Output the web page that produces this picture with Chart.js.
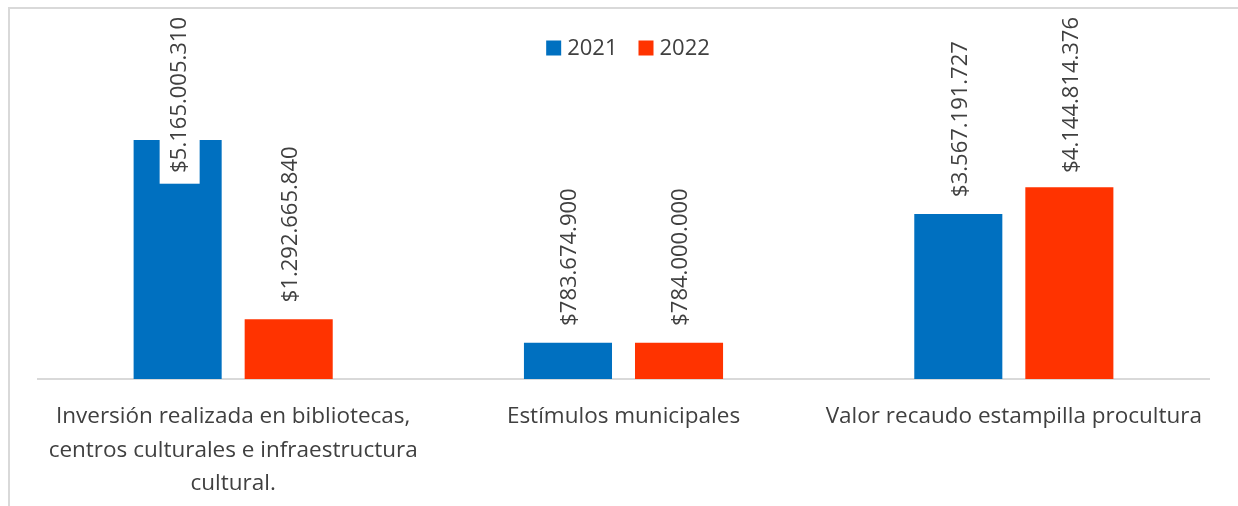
<!DOCTYPE html>
<html>
<head>
<meta charset="utf-8">
<script src="https://cdn.jsdelivr.net/npm/chart.js@4"></script>
<style>
  html, body { margin: 0; padding: 0; background: #fff; overflow: hidden; }
  #wrap { position: relative; width: 1238px; height: 506px; }
</style>
</head>
<body>
<div id="wrap"><canvas id="c"></canvas></div>
<script>
const categories = [
  ["Inversión realizada en bibliotecas,", "centros culturales e infraestructura", "cultural."],
  "Estímulos municipales",
  "Valor recaudo estampilla procultura"
];
const seriesLabels = ["2021", "2022"];
const values2021 = [5165005310, 783674900, 3567191727];
const values2022 = [1292665840, 784000000, 4144814376];
const seriesColors = ["#0070C0", "#FF3300"];

const FONT = "'Open Sans', 'Noto Sans', sans-serif";
const TEXT_COLOR = "#404040";

function fmt(v) {
  return "$" + String(v).replace(/\B(?=(\d{3})+(?!\d))/g, ".");
}

const labelPlugin = {
  id: "valueLabels",
  afterDatasetsDraw(chart) {
    const ctx = chart.ctx;
    ctx.save();
    ctx.font = "22px " + FONT;
    chart.data.datasets.forEach((ds, di) => {
      const meta = chart.getDatasetMeta(di);
      meta.data.forEach((bar, i) => {
        const txt = fmt(ds.data[i]);
        const w = ctx.measureText(txt).width;
        let bottom = bar.y - 17;
        const minTop = 17;
        if (bottom - w < minTop) bottom = minTop + w;
        const x = bar.x + 2;
        ctx.save();
        ctx.translate(x, bottom);
        ctx.rotate(-Math.PI / 2);
        ctx.fillStyle = "#ffffff";
        ctx.fillRect(-11, -20, w + 22, 40);
        ctx.fillStyle = TEXT_COLOR;
        ctx.textAlign = "left";
        ctx.textBaseline = "middle";
        ctx.fillText(txt, 0, 0);
        ctx.restore();
      });
    });
    ctx.restore();
  },
  afterDraw(chart) {
    const ctx = chart.ctx;
    ctx.save();
    // legend
    ctx.font = "22px " + FONT;
    ctx.textBaseline = "middle";
    ctx.textAlign = "left";
    const box = 15, gap = 6, itemGap = 21;
    const widths = seriesLabels.map(s => ctx.measureText(s).width);
    let total = 0;
    widths.forEach((w, i) => { total += box + gap + w + (i ? itemGap : 0); });
    let x = 628 - total / 2;
    const cy = 48;
    seriesLabels.forEach((s, i) => {
      ctx.fillStyle = seriesColors[i];
      ctx.fillRect(x, cy - box / 2, box, box);
      ctx.fillStyle = TEXT_COLOR;
      ctx.fillText(s, x + box + gap, cy + 1);
      x += box + gap + widths[i] + itemGap;
    });
    // frame
    ctx.strokeStyle = "#D9D9D9";
    ctx.lineWidth = 2;
    ctx.beginPath();
    ctx.moveTo(9, 506);
    ctx.lineTo(9, 8);
    ctx.lineTo(1238, 8);
    ctx.stroke();
    ctx.restore();
  }
};

new Chart(document.getElementById("c"), {
  type: "bar",
  data: {
    labels: categories,
    datasets: [
      { label: seriesLabels[0], data: values2021, backgroundColor: seriesColors[0] },
      { label: seriesLabels[1], data: values2022, backgroundColor: seriesColors[1] }
    ]
  },
  options: {
    responsive: true,
    maintainAspectRatio: false,
    animation: false,
    devicePixelRatio: 1,
    categoryPercentage: 0.569,
    barPercentage: 0.793,
    layout: { padding: { left: 38, right: 29, top: 55, bottom: 0 } },
    plugins: { legend: { display: false }, tooltip: { enabled: false } },
    scales: {
      y: { display: false, min: 0, max: 7000000000 },
      x: {
        grid: { display: false, drawTicks: false },
        border: { display: true, color: "#D9D9D9", width: 2 },
        ticks: {
          color: TEXT_COLOR,
          font: { family: FONT, size: 22.5, lineHeight: 1.49 },
          padding: 21,
          maxRotation: 0,
          autoSkip: false
        },
        afterFit(scale) { scale.height = 127; }
      }
    }
  },
  plugins: [labelPlugin]
});
</script>
</body>
</html>
